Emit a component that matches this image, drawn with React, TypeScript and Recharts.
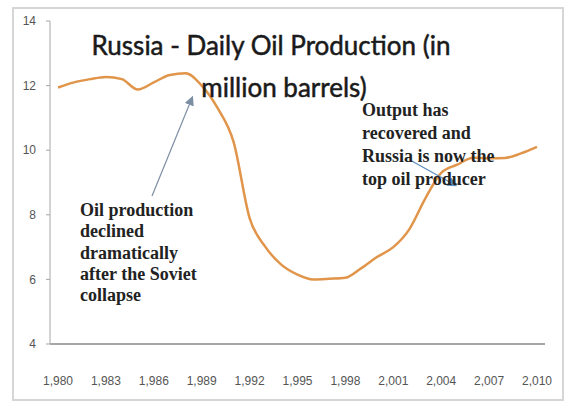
import React from "react";
import { LineChart, Line, XAxis, YAxis } from "recharts";

const years = [
  1980, 1981, 1982, 1983, 1984, 1985, 1986, 1987, 1988, 1989, 1990, 1991,
  1992, 1993, 1994, 1995, 1996, 1997, 1998, 1999, 2000, 2001, 2002, 2003,
  2004, 2005, 2006, 2007, 2008, 2009, 2010,
];

// million barrels per day
const production = [
  11.94, 12.1, 12.2, 12.27, 12.2, 11.88, 12.1, 12.33, 12.38, 12.0, 11.3,
  10.25, 7.9, 7.0, 6.45, 6.15, 6.0, 6.02, 6.05, 6.35, 6.7, 7.0, 7.55, 8.5,
  9.3, 9.55, 9.77, 9.75, 9.76, 9.9, 10.1,
];

const yTicks = [4, 6, 8, 10, 12, 14];

const titleLines = ["Russia - Daily Oil Production (in", "million barrels)"];
const leftNote = [
  "Oil production",
  "declined",
  "dramatically",
  "after the Soviet",
  "collapse",
];
const rightNote = [
  "Output has",
  "recovered and",
  "Russia is now the",
  "top oil producer",
];

const data = years.map((year, i) => ({ year, value: production[i] }));

const W = 569;
const H = 409;

const noteStyle: React.CSSProperties = {
  fontFamily: "'Liberation Serif', serif",
  fontWeight: 700,
  fontSize: 18,
  fill: "#222",
};

const titleStyle: React.CSSProperties = {
  fontFamily: "Lato, sans-serif",
  fontSize: 26,
  fill: "#1a1a1a",
  stroke: "#1a1a1a",
  strokeWidth: 0.5,
};

function Overlay() {
  return (
    <svg
      width={W}
      height={H}
      style={{ position: "absolute", left: 0, top: 0, pointerEvents: "none" }}
    >
      <defs>
        <marker
          id="arrGray"
          markerWidth="8"
          markerHeight="8"
          refX="6"
          refY="4"
          orient="auto"
        >
          <path d="M0,0 L8,4 L0,8 z" fill="#7d8fa3" />
        </marker>
        <marker
          id="arrBlue"
          markerWidth="8"
          markerHeight="8"
          refX="6"
          refY="4"
          orient="auto"
        >
          <path d="M0,0 L8,4 L0,8 z" fill="#5b8cbc" />
        </marker>
      </defs>
      <text x={271} y={55} textAnchor="middle" style={titleStyle}>
        {titleLines[0]}
      </text>
      <text x={284} y={97} textAnchor="middle" style={titleStyle}>
        {titleLines[1]}
      </text>
      <line
        x1={152}
        y1={196}
        x2={192}
        y2={98}
        stroke="#7d8fa3"
        strokeWidth={1.2}
        markerEnd="url(#arrGray)"
      />
      <line
        x1={410}
        y1={160}
        x2={455}
        y2={185}
        stroke="#5b8cbc"
        strokeWidth={1.2}
        markerEnd="url(#arrBlue)"
      />
      {leftNote.map((t, i) => (
        <text key={t} x={80} y={216 + i * 21.3} style={noteStyle}>
          {t}
        </text>
      ))}
      {rightNote.map((t, i) => (
        <text key={t} x={362} y={116 + i * 23} style={noteStyle}>
          {t}
        </text>
      ))}
    </svg>
  );
}

export default function App() {
  return (
    <div
      style={{
        position: "absolute",
        left: 0,
        top: 0,
        width: W,
        height: H,
        background: "#fff",
      }}
    >
      <div
        style={{
          position: "absolute",
          left: 12,
          top: 7,
          width: 548,
          height: 390,
          border: "2px solid #d6d6d6",
        }}
      />
      <LineChart
        width={W}
        height={H}
        data={data}
        margin={{ top: 21, right: 24, bottom: 35, left: 10 }}
        style={{ position: "absolute", left: 0, top: 0 }}
      >
        <XAxis
          dataKey="year"
          interval={2}
          padding={{ left: 8, right: 8 }}
          tickLine={false}
          tickMargin={26}
          axisLine={{ stroke: "#a6a6a6", strokeWidth: 2 }}
          tick={{ fill: "#555", fontSize: 12, fontFamily: "'Liberation Sans', sans-serif" }}
          tickFormatter={(v) => Number(v).toLocaleString("en-US")}
        />
        <YAxis
          width={40}
          domain={[4, 14]}
          ticks={yTicks}
          tickSize={4}
          tickMargin={10}
          axisLine={{ stroke: "#a6a6a6" }}
          tickLine={{ stroke: "#a6a6a6" }}
          tick={{ fill: "#555", fontSize: 12, fontFamily: "'Liberation Sans', sans-serif" }}
        />
        <Line
          type="monotone"
          dataKey="value"
          stroke="#e0954a"
          strokeWidth={2.5}
          dot={false}
          isAnimationActive={false}
        />
      </LineChart>
      <Overlay />
    </div>
  );
}
